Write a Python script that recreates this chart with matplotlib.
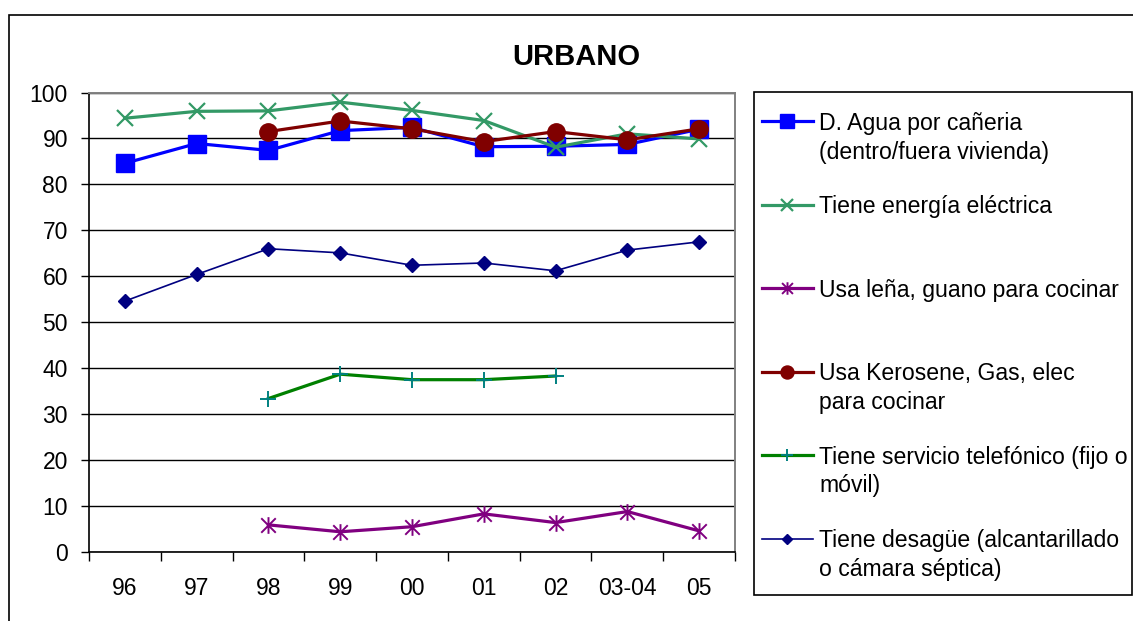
import numpy as np
import matplotlib
matplotlib.use("Agg")
import matplotlib.pyplot as plt
from matplotlib.patches import Rectangle
from matplotlib.lines import Line2D
from matplotlib.path import Path

plt.rcParams['font.family'] = ['Liberation Sans', 'DejaVu Sans']

# ---------------- data ----------------
years = ["96", "97", "98", "99", "00", "01", "02", "03-04", "05"]
agua = [84.6, 88.9, 87.4, 91.7, 92.4, 88.2, 88.3, 88.7, 92.0]
energia = [94.4, 95.9, 96.0, 97.9, 96.1, 93.9, 88.1, 91.0, 89.9]
lena = [np.nan, np.nan, 5.9, 4.4, 5.5, 8.3, 6.4, 8.8, 4.6]
kerosene = [np.nan, np.nan, 91.5, 93.8, 92.1, 89.3, 91.5, 89.7, 92.1]
telefono = [np.nan, np.nan, 33.4, 38.7, 37.5, 37.5, 38.3, np.nan, np.nan]
desague = [54.6, 60.4, 66.0, 65.1, 62.4, 62.9, 61.2, 65.7, 67.5]

labels = [
    "D. Agua por cañeria\n(dentro/fuera vivienda)",
    "Tiene energía eléctrica",
    "Usa leña, guano para cocinar",
    "Usa Kerosene, Gas, elec\npara cocinar",
    "Tiene servicio telefónico (fijo o\nmóvil)",
    "Tiene desagüe (alcantarillado\no cámara séptica)",
]
y_ticks = list(range(0, 101, 10))

# ---------------- styles ----------------
# Excel-style star marker: an X plus a vertical stroke
asterisk = Path([(-1, -1), (1, 1), (-1, 1), (1, -1), (0, -1.15), (0, 1.15)],
                [Path.MOVETO, Path.LINETO, Path.MOVETO, Path.LINETO, Path.MOVETO, Path.LINETO])
styles = [
    dict(color="#0000FF", lw=2.3, marker="s", ms=12.5, mfc="#0000FF", mec="#0000FF"),
    dict(color="#339966", lw=2.3, marker="x", ms=12, mec="#339966", mew=1.6),
    dict(color="#800080", lw=2.3, marker=asterisk, ms=12, mec="#800080", mew=1.4),
    dict(color="#800000", lw=2.3, marker="o", ms=12.5, mfc="#800000", mec="#800000"),
    dict(color="#008000", lw=2.3, marker="+", ms=11, mec="#008080", mew=1.4),
    dict(color="#000080", lw=1.2, marker="D", ms=7, mfc="#000080", mec="#000080"),
]
series = [agua, energia, lena, kerosene, telefono, desague]

W, H = 1133, 621
fig = plt.figure(figsize=(W / 100, H / 100), dpi=100)

# outer frame
fig.add_artist(Rectangle((9 / W, -0.1), 1.2, 1 - 15 / H + 0.1, transform=fig.transFigure,
                         fill=False, ec="black", lw=1.2))

ax = fig.add_axes([89 / W, (H - 552) / H, (735 - 89) / W, (552 - 92.5) / H])
x = np.arange(len(years))
for vals, st in zip(series, styles):
    ax.plot(x, vals, clip_on=False, zorder=3, **st)

ax.set_xlim(-0.5, len(years) - 0.5)
ax.set_ylim(0, 100)
ax.set_yticks(y_ticks)
ax.yaxis.grid(True, color="black", lw=1.0)
ax.set_axisbelow(True)

ax.set_xticks(np.arange(-0.5, len(years), 1.0))
ax.set_xticklabels([])
ax.set_xticks(x, minor=True)
ax.set_xticklabels(years, minor=True)
ax.tick_params(axis="x", which="major", direction="out", length=6.3, width=1.0, color="black")
ax.tick_params(axis="x", which="minor", length=0, pad=18, labelsize=16.5)
ax.tick_params(axis="y", direction="out", length=5.8, width=1.0, pad=9.4, labelsize=16.5)

for s in ["left", "bottom"]:
    ax.spines[s].set_color("black")
    ax.spines[s].set_linewidth(1.2)
for s in ["top", "right"]:
    ax.spines[s].set_color("#808080")
    ax.spines[s].set_linewidth(1.4)

# title
fig.text(576.7 / W, 1 - 65 / H, "URBANO", ha="center", va="baseline",
         fontsize=21, fontweight="bold")

# legend (manual, pixel coordinates)
lx0, lx1, ly0, ly1 = 754, 1132, 92, 595
lax = fig.add_axes([lx0 / W, (H - ly1) / H, (lx1 - lx0) / W, (ly1 - ly0) / H])
lax.set_xlim(lx0, lx1)
lax.set_ylim(ly1, ly0)
lax.axis("off")
lax.add_patch(Rectangle((lx0, ly0), lx1 - lx0, ly1 - ly0, fill=False, ec="black", lw=1.2,
                        clip_on=False))
for i, (lab, st) in enumerate(zip(labels, styles)):
    yc = 121.5 + i * 83.5
    st2 = dict(st)
    st2["ms"] = st["ms"] * 0.75
    lax.add_line(Line2D([762, 813], [yc, yc], color=st["color"], lw=st["lw"], clip_on=False))
    m = {k: v for k, v in st2.items() if k not in ("lw",)}
    lax.plot([787.5], [yc], ls="none", clip_on=False, **m)
    for j, line in enumerate(lab.split("\n")):
        lax.text(819, yc + 8.5 + j * 28.5, line, va="baseline", ha="left", fontsize=16.6,
                 clip_on=False)

fig.savefig("out.png", dpi=100)
